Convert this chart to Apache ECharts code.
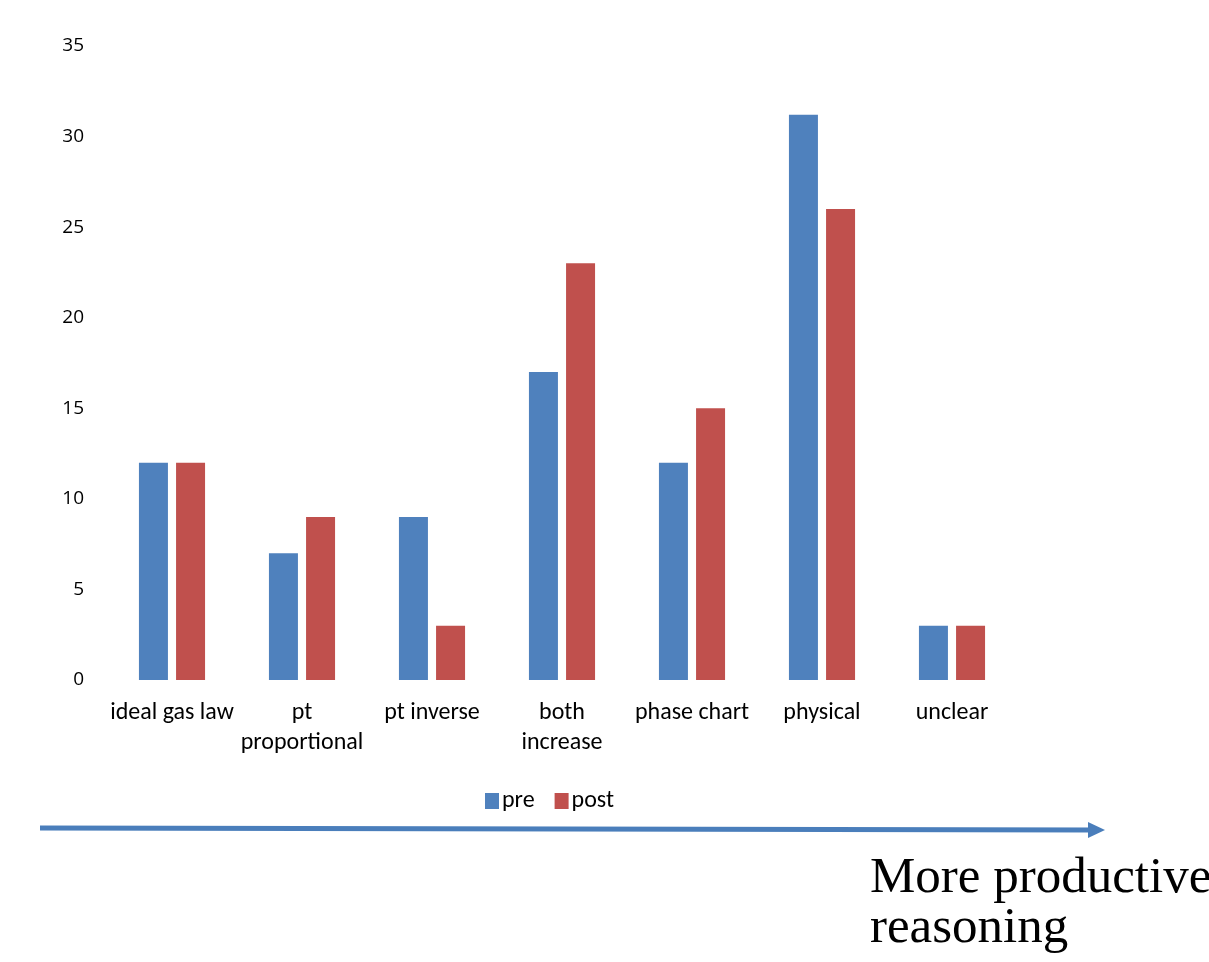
<!DOCTYPE html>
<html><head><meta charset="utf-8">
<script src="https://cdn.jsdelivr.net/npm/echarts@6/dist/echarts.min.js"></script>
<style>html,body{margin:0;padding:0;background:#fff}#c{width:1209px;height:962px}</style>
</head><body><div id="c"></div>
<script>
const categories = ['ideal gas law', 'pt\nproportional', 'pt inverse', 'both\nincrease', 'phase chart', 'physical', 'unclear'];
const preValues = [12, 7, 9, 17, 12, 31.2, 3];
const postValues = [12, 9, 3, 23, 15, 26, 3];
const yTicks = {min: 0, max: 35, interval: 5};
const seriesNames = ['pre', 'post'];
const arrowLabel = 'More productive\nreasoning';

const chart = echarts.init(document.getElementById('c'));
const font = 'Carlito, "Liberation Sans Narrow", "Open Sans", sans-serif';
chart.setOption({
  animation: false,
  grid: {left: 107, right: 192, top: 46, bottom: 282},
  legend: {
    data: seriesNames, top: 784, left: 480, itemWidth: 14, itemHeight: 16, itemGap: 20,
    icon: 'rect', textStyle: {fontFamily: font, fontSize: 24, color: '#000', padding: [0, 0, 0, -2]}
  },
  xAxis: {
    type: 'category', data: categories,
    axisLine: {show: false}, axisTick: {show: false},
    axisLabel: {interval: 0, margin: 18, fontFamily: font, fontSize: 24, color: '#000', lineHeight: 30}
  },
  yAxis: {
    type: 'value', min: yTicks.min, max: yTicks.max, interval: yTicks.interval,
    axisLine: {show: false}, axisTick: {show: false}, splitLine: {show: false},
    axisLabel: {margin: 23, fontFamily: '"Open Sans", sans-serif', fontSize: 19, color: '#000'}
  },
  series: [
    {name: seriesNames[0], type: 'bar', data: preValues, barWidth: 29, barGap: '28%', itemStyle: {color: '#4F81BD'}},
    {name: seriesNames[1], type: 'bar', data: postValues, barWidth: 29, itemStyle: {color: '#C0504D'}}
  ],
  graphic: [
    {type: 'line', shape: {x1: 40, y1: 828, x2: 1092, y2: 830}, style: {stroke: '#4A7EBB', lineWidth: 5}},
    {type: 'polygon', shape: {points: [[1088, 822], [1105, 830], [1088, 838]]}, style: {fill: '#4A7EBB'}},
    {type: 'text', left: 870, top: 853, style: {text: arrowLabel, font: '51px "Liberation Serif", "Times New Roman", serif', fill: '#000', lineHeight: 50}}
  ]
});
</script></body></html>
